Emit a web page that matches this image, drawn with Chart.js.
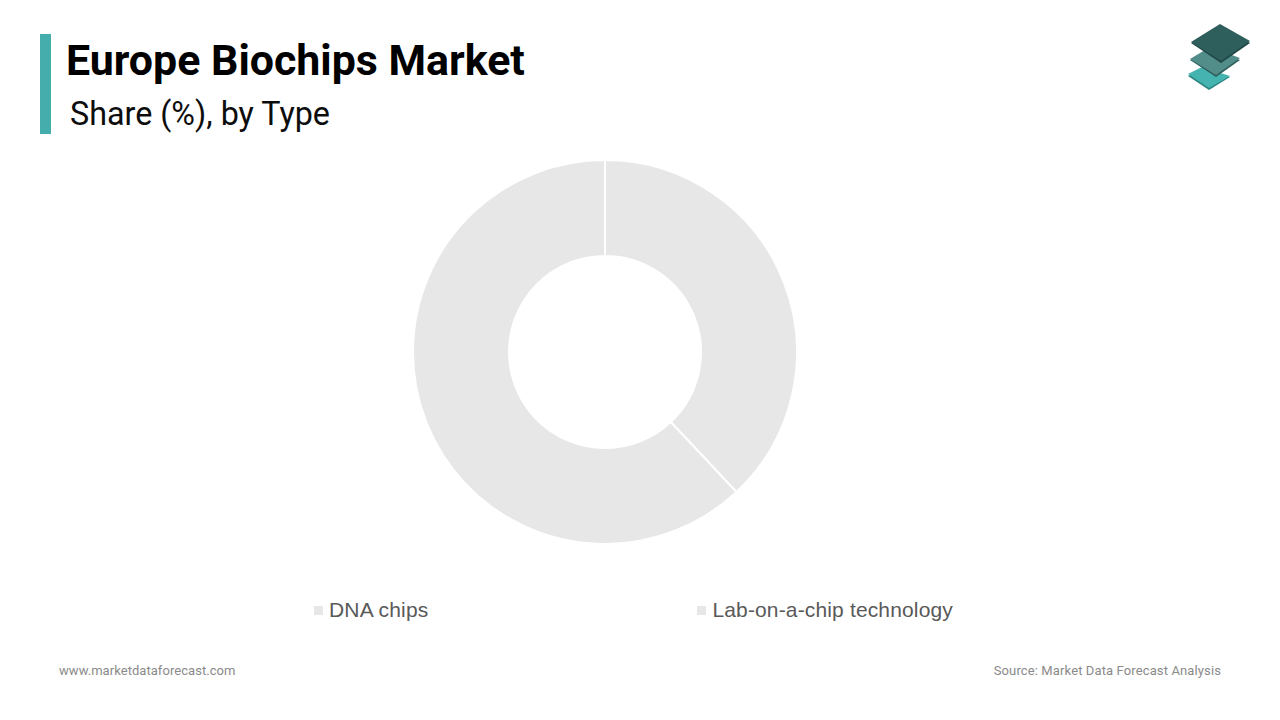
<!DOCTYPE html>
<html>
<head>
<meta charset="utf-8">
<title>Europe Biochips Market</title>
<script src="https://cdn.jsdelivr.net/npm/chart.js@4"></script>
<style>
    html, body { margin: 0; padding: 0; background: #fff; }
    #page { position: relative; width: 1280px; height: 720px; overflow: hidden; font-family: Roboto, sans-serif; }
    #accent { position: absolute; left: 40px; top: 34px; width: 11px; height: 100px; background: #45aeac; }
    #title { position: absolute; left: 66px; top: 35px; font-size: 42.9px; line-height: 50px; font-weight: 700; color: #000; white-space: nowrap; }
    #subtitle { position: absolute; left: 70px; top: 94px; font-size: 32.3px; line-height: 40px; color: #0d0d0d; white-space: nowrap; }
    #logo { position: absolute; left: 1170px; top: 10px; }
    #chart-box { position: absolute; left: 405px; top: 152px; width: 400px; height: 400px; }
    #legend { position: absolute; left: 314px; top: 596px; display: flex; gap: 269px; font-family: "Liberation Sans", sans-serif; font-size: 21px; letter-spacing: 0.15px; line-height: 28px; color: #595959; white-space: nowrap; }
    #legend .item { display: flex; align-items: center; }
    #legend .swatch { width: 9px; height: 9px; margin-right: 6px; }
    .foot { position: absolute; top: 662px; font-family: Roboto, sans-serif; font-size: 13px; letter-spacing: 0.05px; line-height: 18px; color: #8a8a8a; white-space: nowrap; }
</style>
</head>
<body>
<div id="page">
    <div id="accent"></div>
    <div id="title">Europe Biochips Market</div>
    <div id="subtitle">Share (%), by Type</div>
    <svg id="logo" width="100" height="90" viewBox="1170 10 100 90">
        <polygon points="1188,76 1202,68 1230,77 1209,90" fill="#2a8583"/>
        <polygon points="1188,74 1202,67 1230,76 1209,88" fill="#45b3b0"/>
        <polygon points="1190,60 1210,48 1240,60 1216,77" fill="#2f5f5d"/>
        <polygon points="1190,59 1210,47 1240,58 1216,75" fill="#528d8a"/>
        <polygon points="1191,43 1220,25 1250,43 1221,63" fill="#1f4644"/>
        <polygon points="1191,42 1220,24 1250,41 1221,61" fill="#2f5f5d"/>
    </svg>
    <div id="chart-box"><canvas id="share-chart"></canvas></div>
    <div id="legend"></div>
    <div class="foot" style="left:59px">www.marketdataforecast.com</div>
    <div class="foot" style="right:59px; letter-spacing:0.12px">Source: Market Data Forecast Analysis</div>
</div>
<script>
// Chart data
const categories = ['DNA chips', 'Lab-on-a-chip technology'];
const shareValues = [38, 62];
const sliceColors = ['#e7e7e7', '#e7e7e7'];

// Build the doughnut
const ctx = document.getElementById('share-chart').getContext('2d');
new Chart(ctx, {
    type: 'doughnut',
    data: {
        labels: categories,
        datasets: [{
            data: shareValues,
            backgroundColor: sliceColors,
            borderColor: '#ffffff',
            borderWidth: 2
        }]
    },
    options: {
        responsive: true,
        maintainAspectRatio: false,
        animation: false,
        cutout: '50%',
        layout: { padding: 7 },
        plugins: {
            legend: { display: false },
            tooltip: { enabled: false }
        }
    }
});

// Legend sits under the chart with a wide gap, so it is plain HTML
const legendEl = document.getElementById('legend');
categories.forEach((name, i) => {
    const item = document.createElement('div');
    item.className = 'item';
    const swatch = document.createElement('span');
    swatch.className = 'swatch';
    swatch.style.backgroundColor = sliceColors[i];
    item.appendChild(swatch);
    item.appendChild(document.createTextNode(name));
    legendEl.appendChild(item);
});
</script>
</body>
</html>
